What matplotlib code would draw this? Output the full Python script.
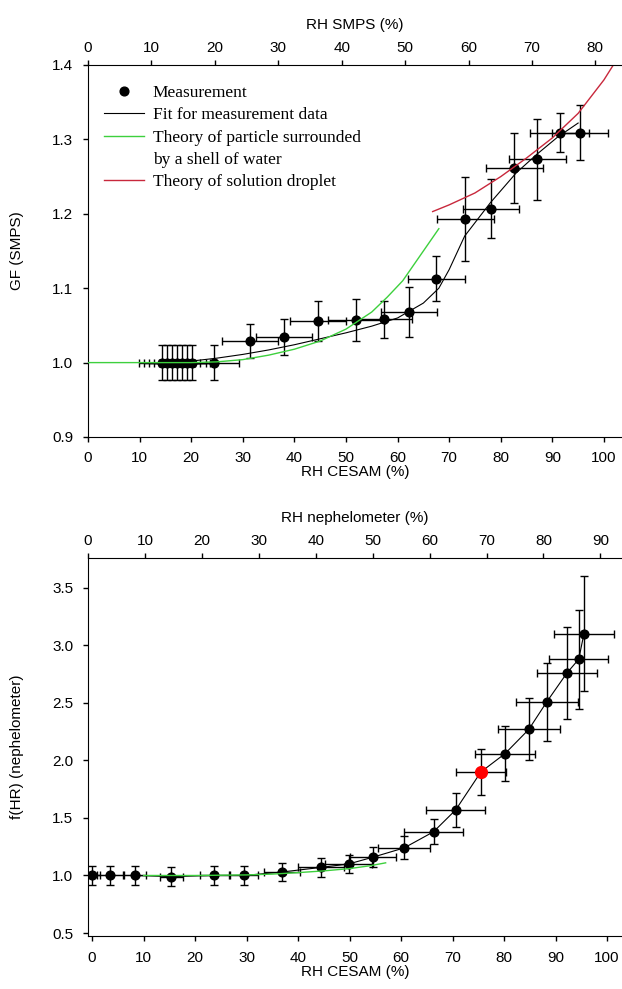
import matplotlib
matplotlib.use("Agg")
import matplotlib.pyplot as plt
from matplotlib.lines import Line2D
from matplotlib.ticker import MultipleLocator, FormatStrFormatter

plt.rcParams['font.family'] = ['Liberation Sans', 'DejaVu Sans']

# ── top panel: growth factor (SMPS) vs RH CESAM
gf_rh = [14.3, 15.3, 16.3, 17.3, 18.3, 19.1, 20.1, 24.5, 31.4, 38.0, 44.6,
         52.0, 57.4, 62.2, 67.5, 73.1, 78.1, 82.6, 87.1, 91.4, 95.3]
gf = [1.0, 1.0, 1.0, 1.0, 1.0, 1.0, 1.0, 1.0, 1.029, 1.034, 1.056,
      1.057, 1.058, 1.068, 1.113, 1.193, 1.207, 1.262, 1.273, 1.309, 1.309]
gf_yerr = [0.023, 0.023, 0.023, 0.023, 0.023, 0.023, 0.023, 0.023, 0.023, 0.024, 0.027,
           0.028, 0.025, 0.034, 0.030, 0.056, 0.040, 0.047, 0.055, 0.026, 0.037]
gf_xerr = [4.5, 4.5, 4.5, 4.5, 4.5, 4.5, 4.5, 4.7, 5.5, 5.5, 5.5,
           5.5, 5.4, 5.4, 5.5, 5.5, 5.5, 5.5, 5.5, 5.8, 5.4]

fit_rh = [20, 25, 30, 35, 40, 45, 50, 55, 60, 65, 68, 70, 73, 78, 83, 87, 91, 95]
fit_gf = [1.002, 1.006, 1.011, 1.017, 1.024, 1.032, 1.040, 1.049, 1.060, 1.080,
          1.100, 1.125, 1.170, 1.215, 1.255, 1.280, 1.303, 1.322]

shell_rh = [0, 10, 20, 25, 30, 35, 40, 45, 50, 55, 58, 61, 64, 66, 68]
shell_gf = [1.0, 1.0, 1.0, 1.001, 1.004, 1.010, 1.018, 1.029, 1.045, 1.068,
            1.088, 1.110, 1.140, 1.160, 1.180]

drop_rh = [66.8, 70, 75, 80, 85, 90, 95, 100, 102]
drop_gf = [1.203, 1.212, 1.228, 1.250, 1.275, 1.302, 1.335, 1.380, 1.402]

# ── bottom panel: f(RH) nephelometer vs RH CESAM
neph_rh = [0, 3.5, 8.3, 15.4, 23.7, 29.5, 36.8, 44.4, 49.8, 54.6,
           60.6, 66.3, 70.6, 75.5, 80.2, 84.8, 88.3, 92.2, 94.5, 95.5]
fhr = [1.0, 1.0, 1.0, 0.99, 1.0, 1.0, 1.03, 1.07, 1.10, 1.16,
       1.24, 1.38, 1.57, 1.90, 2.06, 2.27, 2.51, 2.76, 2.88, 3.10]
fhr_yerr = [0.08, 0.08, 0.08, 0.08, 0.08, 0.08, 0.08, 0.08, 0.08, 0.09,
            0.10, 0.11, 0.15, 0.20, 0.24, 0.27, 0.34, 0.40, 0.43, 0.50]
fhr_xerr = [1.5, 2.5, 2.2, 2.2, 2.8, 2.8, 3.5, 4.5, 4.5, 4.5,
            5.0, 5.7, 5.7, 4.8, 5.8, 6.0, 6.0, 5.8, 5.7, 5.8]
highlight = 13  # the red measurement

shell2_rh = [10, 20, 30, 35, 40, 45, 50, 54, 57]
shell2_fhr = [1.0, 1.0, 1.005, 1.012, 1.025, 1.04, 1.06, 1.085, 1.11]

GREEN = "#3dd03d"
RED = "#c8283c"
FS = 11

fig = plt.figure(figsize=(6.22, 9.89), dpi=100)
W, H = 622, 989
ax1 = fig.add_axes([88 / W, 1 - 437 / H, 1 - 88 / W, (437 - 65) / H])
ax2 = fig.add_axes([88 / W, 1 - 936 / H, 1 - 88 / W, (936 - 558) / H])

eb_kw = dict(fmt='o', color='black', ms=6.3, elinewidth=1.0, capsize=2.6,
             capthick=1.0, zorder=2)


def style(ax, twin, xpad):
    ax.spines["right"].set_visible(False)
    ax.spines["top"].set_visible(False)
    for s in ("left", "bottom", "right"):
        twin.spines[s].set_visible(False)
    ax.tick_params(axis="x", direction="out", length=3.5, width=1, labelsize=FS, pad=xpad)
    ax.tick_params(axis="y", direction="out", length=3.5, width=1, labelsize=FS, pad=7)
    twin.tick_params(axis="x", direction="out", length=3.5, width=1, labelsize=FS, pad=4)
    twin.xaxis.set_major_locator(MultipleLocator(10))
    ax.xaxis.set_major_locator(MultipleLocator(10))
    ax.yaxis.set_label_coords(-0.12, 0.5)


# top panel
ax1.errorbar(gf_rh, gf, yerr=gf_yerr, xerr=gf_xerr, **eb_kw)
ax1.plot(fit_rh, fit_gf, color="black", lw=0.8, zorder=3)
ax1.plot(shell_rh, shell_gf, color=GREEN, lw=1.0, zorder=3)
ax1.plot(drop_rh, drop_gf, color=RED, lw=1.0, zorder=3)
ax1.set_xlim(0, 103.5)
ax1.set_ylim(0.9, 1.4)
ax1.yaxis.set_major_locator(MultipleLocator(0.1))
ax1.yaxis.set_major_formatter(FormatStrFormatter("%.1f"))
ax1.set_xlabel("RH CESAM (%)", fontsize=FS, labelpad=0)
ax1.set_ylabel("GF (SMPS)", fontsize=FS)
t1 = ax1.twiny()
t1.set_xlim(0, 84.2)
t1.set_xlabel("RH SMPS (%)", fontsize=FS, labelpad=8)
style(ax1, t1, 6.5)

handles = [
    Line2D([], [], marker='o', ls='', color='black', ms=6.3),
    Line2D([], [], color='black', lw=0.8),
    Line2D([], [], color=GREEN, lw=1.0),
    Line2D([], [], color='none'),
    Line2D([], [], color=RED, lw=1.0),
]
labels = ["Measurement", "Fit for measurement data",
          "Theory of particle surrounded", "by a shell of water",
          "Theory of solution droplet"]
ax1.legend(handles, labels, loc="upper left", bbox_to_anchor=(0.03, 0.947),
           frameon=False, prop={"family": "Liberation Serif", "size": 12.5},
           handlelength=2.3, handletextpad=0.5, labelspacing=0.36,
           borderpad=0, borderaxespad=0)

# bottom panel
ax2.errorbar(neph_rh, fhr, yerr=fhr_yerr, xerr=fhr_xerr, **eb_kw)
ax2.plot(neph_rh, fhr, color="black", lw=0.8, zorder=3)
ax2.plot(shell2_rh, shell2_fhr, color=GREEN, lw=1.0, zorder=3)
ax2.plot(neph_rh[highlight], fhr[highlight], 'o', color="red", ms=8.5, zorder=4)
ax2.set_xlim(-0.8, 102.9)
ax2.set_ylim(0.474, 3.76)
ax2.yaxis.set_major_locator(MultipleLocator(0.5))
ax2.yaxis.set_major_formatter(FormatStrFormatter("%.1f"))
ax2.set_xlabel("RH CESAM (%)", fontsize=FS, labelpad=0)
ax2.set_ylabel("f(HR) (nephelometer)", fontsize=FS)
t2 = ax2.twiny()
t2.set_xlim(0, 93.8)
t2.set_xlabel("RH nephelometer (%)", fontsize=FS, labelpad=8)
style(ax2, t2, 7)

fig.savefig("out.png", dpi=100)
